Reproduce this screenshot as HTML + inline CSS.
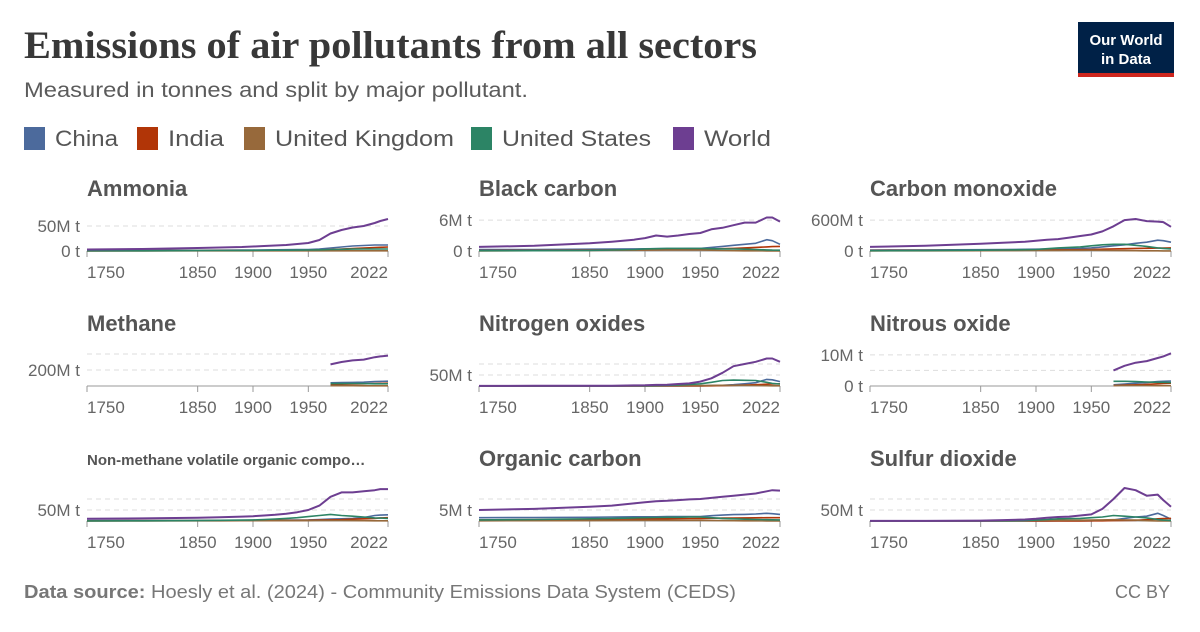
<!DOCTYPE html>
<html><head><meta charset="utf-8"><style>
body{margin:0;background:#fff;width:1200px;height:627px;overflow:hidden;font-family:"Liberation Sans",sans-serif}
</style></head><body>
<svg id="chart" width="1200" height="627" xmlns="http://www.w3.org/2000/svg" font-family="Liberation Sans, sans-serif">
<text x="24" y="58" font-family="Liberation Serif, serif" font-weight="bold" font-size="39" fill="#383838" textLength="733" lengthAdjust="spacingAndGlyphs">Emissions of air pollutants from all sectors</text>
<text x="24" y="97" font-size="21" fill="#5b5b5b" textLength="504" lengthAdjust="spacingAndGlyphs">Measured in tonnes and split by major pollutant.</text>
<g>
<rect x="1078" y="22" width="96" height="55" fill="#002147"/>
<rect x="1078" y="73" width="96" height="4" fill="#ce261e"/>
<text x="1126" y="45" text-anchor="middle" font-size="15" font-weight="bold" fill="#fff">Our World</text>
<text x="1126" y="64" text-anchor="middle" font-size="15" font-weight="bold" fill="#fff">in Data</text>
</g>
<g id="legend"></g>
<g id="panels"></g>
<text x="24" y="598" font-size="18" fill="#777" textLength="712" lengthAdjust="spacingAndGlyphs"><tspan font-weight="bold">Data source:</tspan> Hoesly et al. (2024) - Community Emissions Data System (CEDS)</text>
<text x="1170" y="598" text-anchor="end" font-size="18" fill="#777">CC BY</text>
</svg>
<script>
const years=[1750,1800,1850,1870,1890,1900,1910,1920,1930,1940,1950,1960,1970,1980,1990,2000,2010,2015,2022];
const countries=["China","India","United Kingdom","United States","World"];
const colors=["#4c6a9c","#b13507","#97693b","#2c8465","#6d3e91"];
const N=null;
// Ammonia
const ammChina=[1,1.2,1.5,1.7,1.9,2,2.2,2.4,2.6,2.8,3,4,6,8,10,11,12,12,12];
const ammIndia=[0.5,0.6,0.7,0.8,0.9,1,1,1,1.1,1.1,1.2,2,3,4,5,6,7,7.5,8];
const ammUK=[0.2,0.2,0.3,0.3,0.3,0.3,0.3,0.3,0.3,0.3,0.3,0.4,0.4,0.4,0.4,0.3,0.3,0.3,0.3];
const ammUS=[0.3,0.5,0.8,1,1.2,1.4,1.5,1.6,1.7,1.8,2,2.5,3,3.5,3.8,4,4,4,4];
const ammWorld=[3,4,6,7,8,9,10,11,12,14,16,22,35,42,47,50,56,60,64];
// Black carbon
const bcChina=[0.3,0.3,0.35,0.38,0.4,0.42,0.44,0.46,0.48,0.5,0.5,0.7,0.9,1.1,1.3,1.5,2.2,2,1.3];
const bcIndia=[0.1,0.12,0.15,0.17,0.2,0.22,0.24,0.26,0.28,0.29,0.3,0.4,0.45,0.5,0.6,0.7,0.8,0.85,0.9];
const bcUK=[0.02,0.05,0.1,0.15,0.18,0.2,0.2,0.2,0.2,0.2,0.2,0.15,0.1,0.06,0.04,0.03,0.02,0.02,0.02];
const bcUS=[0.05,0.06,0.1,0.2,0.3,0.4,0.45,0.5,0.5,0.5,0.5,0.45,0.4,0.38,0.35,0.3,0.22,0.18,0.15];
const bcWorld=[0.8,1,1.5,1.8,2.2,2.5,3,2.8,3,3.3,3.5,4.2,4.5,5,5.5,5.5,6.5,6.5,5.7];
// Carbon monoxide
const coChina=[20,22,25,28,32,35,38,42,46,50,60,80,100,120,150,170,210,200,170];
const coIndia=[10,11,13,15,17,18,20,22,24,26,30,35,40,45,50,52,56,58,60];
const coUK=[1,3,6,8,9,10,11,12,13,14,15,13,10,8,6,4,3,2,2];
const coUS=[5,8,15,20,25,30,45,60,70,80,100,120,130,130,110,90,60,50,40];
const coWorld=[80,100,140,160,180,200,220,230,260,290,320,380,480,600,620,580,570,560,470];
// Methane
const chChina=[N,N,N,N,N,N,N,N,N,N,N,N,40,42,45,48,55,58,60];
const chIndia=[N,N,N,N,N,N,N,N,N,N,N,N,20,23,26,28,31,33,35];
const chUK=[N,N,N,N,N,N,N,N,N,N,N,N,4,4,4,3,2.5,2,2];
const chUS=[N,N,N,N,N,N,N,N,N,N,N,N,30,30,31,30,28,27,27];
const chWorld=[N,N,N,N,N,N,N,N,N,N,N,N,270,300,320,330,360,370,380];
// Nitrogen oxides
const noChina=[0.1,0.1,0.2,0.2,0.3,0.3,0.4,0.5,0.6,0.8,1,2,3,6,10,15,30,28,20];
const noIndia=[0.1,0.1,0.1,0.2,0.2,0.2,0.3,0.3,0.4,0.5,0.6,1,2,3,4,6,8,9,10];
const noUK=[0.05,0.1,0.3,0.5,0.8,1,1.2,1.3,1.4,1.6,2,2.5,3,3,3,2.2,1.4,1,0.8];
const noUS=[0.05,0.1,0.2,0.4,0.7,1,2,3,5,7,10,17,25,27,26,25,17,12,9];
const noWorld=[0.5,0.7,1,1.5,2.5,3,5,6,9,12,20,35,60,90,100,110,125,125,110];
// Nitrous oxide
const n2oChina=[N,N,N,N,N,N,N,N,N,N,N,N,0.4,0.6,0.9,1.1,1.4,1.5,1.6];
const n2oIndia=[N,N,N,N,N,N,N,N,N,N,N,N,0.2,0.3,0.4,0.5,0.7,0.8,0.9];
const n2oUK=[N,N,N,N,N,N,N,N,N,N,N,N,0.2,0.2,0.2,0.15,0.1,0.1,0.1];
const n2oUS=[N,N,N,N,N,N,N,N,N,N,N,N,1.5,1.5,1.4,1.3,1.2,1.2,1.1];
const n2oWorld=[N,N,N,N,N,N,N,N,N,N,N,N,5,6.5,7.5,8,9,9.5,10.5];
// NMVOC
const vocChina=[2,2.2,2.6,2.8,3,3.2,3.5,3.8,4.2,4.6,5,7,9,10,12,16,25,27,28];
const vocIndia=[1,1.2,1.5,1.7,2,2.1,2.2,2.4,2.6,2.8,3,4,5,6,8,10,12,14,15];
const vocUK=[0.2,0.4,0.8,1,1.2,1.4,1.5,1.6,1.7,1.8,2,2.2,2.3,2.2,2,1.5,1,0.9,0.8];
const vocUS=[0.5,1,2,3,4,5,7,9,12,15,20,25,30,25,22,18,14,13,12];
const vocWorld=[10,12,15,17,20,22,25,28,33,40,50,70,110,130,130,135,140,145,145];
// Organic carbon
const ocChina=[1.5,1.6,1.7,1.8,1.9,1.9,1.9,2,2,2,2,2.4,2.7,2.9,3,3.2,3.5,3.3,3];
const ocIndia=[0.5,0.6,0.7,0.8,0.9,1,1,1.05,1.1,1.15,1.2,1.25,1.3,1.35,1.4,1.45,1.5,1.5,1.5];
const ocUK=[0.1,0.12,0.2,0.25,0.3,0.3,0.3,0.3,0.3,0.3,0.3,0.25,0.2,0.15,0.1,0.08,0.06,0.05,0.05];
const ocUS=[0.5,0.7,1,1.2,1.4,1.5,1.6,1.7,1.7,1.8,1.8,1.5,1.2,1,0.8,0.7,0.6,0.55,0.5];
const ocWorld=[5,5.5,6.5,7,8,8.5,9,9.2,9.5,9.8,10,10.5,11,11.5,12,12.5,13.5,14,13.8];
// Sulfur dioxide
const soChina=[0.1,0.1,0.2,0.3,0.4,0.5,0.6,0.7,0.8,0.9,1,3,5,12,18,22,35,25,8];
const soIndia=[0.05,0.05,0.1,0.1,0.2,0.2,0.3,0.4,0.5,0.6,0.8,1,2,2.5,3,6,10,11,12];
const soUK=[0.1,0.3,1,1.8,2.5,3,3.2,3.3,3.5,3.8,4,5,6,5,4,1.5,0.5,0.3,0.2];
const soUS=[0.05,0.1,0.5,1,2,4,7,10,11,12,15,18,25,22,18,14,7,4,2];
const soWorld=[0.3,0.5,2,4,7,10,15,18,20,25,30,55,100,150,140,115,120,95,65];

const panels=[
 {title:"Ammonia",series:[ammChina,ammIndia,ammUK,ammUS,ammWorld],max:66,ticks:[0,50],labels:["0 t","50M t"],extra:[]},
 {title:"Black carbon",series:[bcChina,bcIndia,bcUK,bcUS,bcWorld],max:6.4,ticks:[0,6],labels:["0 t","6M t"],extra:[]},
 {title:"Carbon monoxide",series:[coChina,coIndia,coUK,coUS,coWorld],max:640,ticks:[0,600],labels:["0 t","600M t"],extra:[]},
 {title:"Methane",series:[chChina,chIndia,chUK,chUS,chWorld],max:412,ticks:[200],labels:["200M t"],extra:[400]},
 {title:"Nitrogen oxides",series:[noChina,noIndia,noUK,noUS,noWorld],max:150,ticks:[50],labels:["50M t"],extra:[100]},
 {title:"Nitrous oxide",series:[n2oChina,n2oIndia,n2oUK,n2oUS,n2oWorld],max:10.6,ticks:[0,10],labels:["0 t","10M t"],extra:[5]},
 {title:"Non-methane volatile organic compo…",small:true,series:[vocChina,vocIndia,vocUK,vocUS,vocWorld],max:150,ticks:[50],labels:["50M t"],extra:[100]},
 {title:"Organic carbon",series:[ocChina,ocIndia,ocUK,ocUS,ocWorld],max:15,ticks:[5],labels:["5M t"],extra:[10]},
 {title:"Sulfur dioxide",series:[soChina,soIndia,soUK,soUS,soWorld],max:150,ticks:[50],labels:["50M t"],extra:[100]}
];
const xTicks=[1750,1850,1900,1950,2022];
const NS="http://www.w3.org/2000/svg";
function mk(tag,attrs,parent,text){const e=document.createElementNS(NS,tag);for(const k in attrs)e.setAttribute(k,attrs[k]);if(text!=null)e.textContent=text;parent.appendChild(e);return e;}
// legend
const lg=document.getElementById('legend');
const lgX=[24,137,244,471,673];
const lgW=[63,56,179,149,67];
countries.forEach((c,i)=>{
 const g=mk('g',{},lg);
 
 
 mk('rect',{x:lgX[i],y:127,width:21,height:23,fill:colors[i]},g);
 mk('text',{x:lgX[i]+31,y:146,'font-size':22,fill:'#555',textLength:lgW[i],lengthAdjust:'spacingAndGlyphs'},g,c);
});
const root=document.getElementById('panels');
const colX=[87,479,870],W=301,rowBase=[251,386,521],H=33;
panels.forEach((p,pi)=>{
 const x0=colX[pi%3],base=rowBase[Math.floor(pi/3)];
 const xs=y=>x0+(y-1750)/(2022-1750)*W;
 const ys=v=>base-v/p.max*H;
 const g=mk('g',{},root);
 
 
 const t=mk('text',{x:x0,y:base-(p.small?56:55),'font-size':p.small?15:22,'font-weight':'bold',fill:'#555'},g,p.title);
 
 
 [...p.ticks,...p.extra].forEach(v=>{ if(v>0) mk('line',{x1:x0,x2:x0+W,y1:ys(v),y2:ys(v),stroke:'#ddd','stroke-dasharray':'5,4'},g);});
 p.ticks.forEach((v,i)=>{
  const l=mk('text',{x:x0-7,y:ys(v)+6,'text-anchor':'end','font-size':17,fill:'#666'},g,p.labels[i]);
  
  
 });
 mk('line',{x1:x0,x2:x0+W,y1:base,y2:base,stroke:'#999'},g);
 xTicks.forEach(yr=>{
  mk('line',{x1:xs(yr),x2:xs(yr),y1:base,y2:base+6,stroke:'#999'},g);
  const l=mk('text',{x:xs(yr),y:base+27,'text-anchor':yr===1750?'start':(yr===2022?'end':'middle'),'font-size':17,fill:'#666'},g,String(yr));
  
  
 });
 p.series.forEach((s,si)=>{
  let d='';let pen=false;
  s.forEach((v,k)=>{ if(v==null){pen=false;return;} d+=(pen?'L':'M')+xs(years[k]).toFixed(1)+','+ys(v).toFixed(1); pen=true;});
  const path=mk('path',{d:d,fill:'none',stroke:colors[si],'stroke-width':si===4?2:1.6,'stroke-linejoin':'round'},g);
  
  
 });
});
</script>
</body></html>
